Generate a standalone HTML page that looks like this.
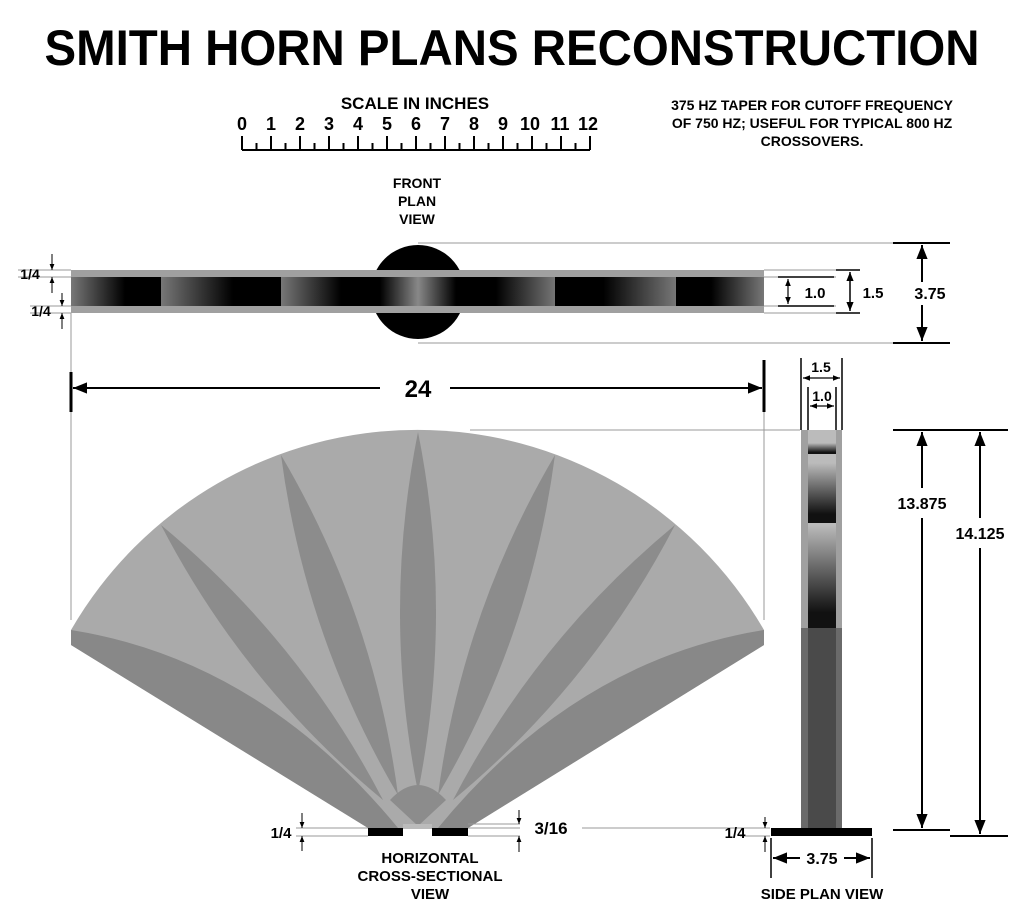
<!DOCTYPE html>
<html><head><meta charset="utf-8"><style>
body{margin:0;background:#fff}
svg{display:block}
text{font-family:"Liberation Sans",sans-serif;font-weight:bold;fill:#000}
</style></head><body>
<svg width="1024" height="913" viewBox="0 0 1024 913" xmlns="http://www.w3.org/2000/svg">
<defs>
<marker id="a" viewBox="0 0 10 10" refX="10" refY="5" markerWidth="7" markerHeight="7" orient="auto"><path d="M0,1 L10,5 L0,9 Z" fill="#000"/></marker>
<marker id="s" viewBox="0 0 10 10" refX="10" refY="5" markerWidth="6" markerHeight="6" orient="auto"><path d="M0,1 L10,5 L0,9 Z" fill="#000"/></marker>
<linearGradient id="gL" x1="0" x2="1"><stop offset="0" stop-color="#777"/><stop offset="0.6" stop-color="#000"/><stop offset="1" stop-color="#000"/></linearGradient>
<linearGradient id="gR" x1="1" x2="0"><stop offset="0" stop-color="#777"/><stop offset="0.6" stop-color="#000"/><stop offset="1" stop-color="#000"/></linearGradient>
<linearGradient id="gC" x1="0" x2="1"><stop offset="0" stop-color="#000"/><stop offset="0.5" stop-color="#888"/><stop offset="1" stop-color="#000"/></linearGradient>
<linearGradient id="gV" x1="0" y1="0" x2="0" y2="1"><stop offset="0" stop-color="#bbb"/><stop offset="0.85" stop-color="#111"/><stop offset="1" stop-color="#111"/></linearGradient>
</defs>

<text x="512" y="65" font-size="50" text-anchor="middle" textLength="935" lengthAdjust="spacingAndGlyphs">SMITH HORN PLANS RECONSTRUCTION</text>

<text x="415" y="109" font-size="17" text-anchor="middle">SCALE IN INCHES</text>
<g font-size="18" text-anchor="middle" font-weight="normal">
<text x="242" y="130">0</text><text x="271" y="130">1</text><text x="300" y="130">2</text><text x="329" y="130">3</text><text x="358" y="130">4</text><text x="387" y="130">5</text><text x="416" y="130">6</text><text x="445" y="130">7</text><text x="474" y="130">8</text><text x="503" y="130">9</text><text x="530" y="130">10</text><text x="560" y="130">11</text><text x="588" y="130">12</text>
</g>
<path d="M242,150 H590 M242,136V150 M271,136V150 M300,136V150 M329,136V150 M358,136V150 M387,136V150 M416,136V150 M445,136V150 M474,136V150 M503,136V150 M532,136V150 M561,136V150 M590,136V150 M256.5,143V150 M285.5,143V150 M314.5,143V150 M343.5,143V150 M372.5,143V150 M401.5,143V150 M430.5,143V150 M459.5,143V150 M488.5,143V150 M517.5,143V150 M546.5,143V150 M575.5,143V150" stroke="#000" stroke-width="2" fill="none"/>

<g font-size="14" text-anchor="middle" font-weight="normal">
<text x="812" y="110">375 HZ TAPER FOR CUTOFF FREQUENCY</text>
<text x="812" y="128">OF 750 HZ; USEFUL FOR TYPICAL 800 HZ</text>
<text x="812" y="146">CROSSOVERS.</text>
<text x="417" y="188">FRONT</text>
<text x="417" y="206">PLAN</text>
<text x="417" y="224">VIEW</text>
</g>

<!-- front plan view -->
<path d="M418,243 H950 M418,343 H950 M764,270 H860 M764,277 H836 M764,306 H836 M764,313 H860" stroke="#999" stroke-width="1"/>
<path d="M18,270 H71 M18,277 H71 M30,306 H71 M30,313 H71" stroke="#999" stroke-width="1"/>
<circle cx="418" cy="292" r="47" fill="#000"/>
<rect x="71" y="270" width="693" height="43" fill="#a0a0a0"/>
<rect x="71" y="277" width="90" height="29" fill="url(#gL)"/>
<rect x="161" y="277" width="120" height="29" fill="url(#gL)"/>
<rect x="281" y="277" width="100" height="29" fill="url(#gL)"/>
<rect x="380" y="277" width="76" height="29" fill="url(#gC)"/>
<rect x="456" y="277" width="100" height="29" fill="url(#gR)"/>
<rect x="555" y="277" width="121" height="29" fill="url(#gR)"/>
<rect x="676" y="277" width="88" height="29" fill="url(#gR)"/>
<path d="M71,313 V380" stroke="#999"/>
<g stroke="#000" stroke-width="1">
<path d="M52,254 V270" marker-end="url(#s)"/><path d="M52,293 V277" marker-end="url(#s)"/>
<path d="M62,293 V306" marker-end="url(#s)"/><path d="M62,329 V313" marker-end="url(#s)"/>
</g>
<text x="30" y="279" font-size="14" text-anchor="middle">1/4</text>
<text x="41" y="316" font-size="14" text-anchor="middle">1/4</text>
<path d="M778,277 H834 M778,306 H834" stroke="#000" stroke-width="1.5"/>
<g stroke="#000" stroke-width="1.2">
<path d="M788,291 V279" marker-end="url(#s)"/><path d="M788,291 V304" marker-end="url(#s)"/>
</g>
<text x="815" y="298" font-size="15" text-anchor="middle" font-weight="normal">1.0</text>
<path d="M836,270 H860 M836,313 H860" stroke="#000" stroke-width="1.5"/>
<g stroke="#000" stroke-width="1.5">
<path d="M850,291 V272" marker-end="url(#s)"/><path d="M850,291 V311" marker-end="url(#s)"/>
</g>
<text x="873" y="298" font-size="15" text-anchor="middle" font-weight="normal">1.5</text>
<path d="M893,243 H950 M893,343 H950" stroke="#000" stroke-width="2"/>
<g stroke="#000" stroke-width="2">
<path d="M922,282 V245" marker-end="url(#a)"/><path d="M922,305 V341" marker-end="url(#a)"/>
</g>
<text x="930" y="299" font-size="16" text-anchor="middle" font-weight="normal">3.75</text>

<!-- 24 dim -->
<path d="M71,372 V412 M764,360 V412" stroke="#000" stroke-width="3"/>
<g stroke="#000" stroke-width="2">
<path d="M380,388 H73" marker-end="url(#a)"/><path d="M450,388 H762" marker-end="url(#a)"/>
</g>
<text x="418" y="397" font-size="24" text-anchor="middle">24</text>
<path d="M764,412 V620 M71,412 V620 M470,430 H800" stroke="#999" stroke-width="1"/>

<!-- fan -->
<path d="M71,630 A400,400 0 0 1 764,630 L764,645 L468,828 L368,828 L71,645 Z" fill="#aaa"/>
<path d="M71,630 Q260,660 398,828 L368,828 L71,645 Z" fill="#888"/>
<path d="M764,630 Q576,660 438,828 L468,828 L764,645 Z" fill="#888"/>
<path d="M418,432 Q382,612 418,792 Q454,612 418,432 Z" fill="#8c8c8c"/>
<path d="M281,455 Q305,637 398,795 Q374,613 281,455 Z" fill="#8c8c8c"/>
<path d="M555,455 Q531,637 438,795 Q462,613 555,455 Z" fill="#8c8c8c"/>
<path d="M161,525 Q244,685 383,800 Q300,640 161,525 Z" fill="#8c8c8c"/>
<path d="M675,525 Q592,685 453,800 Q536,640 675,525 Z" fill="#8c8c8c"/>
<path d="M390,800 Q418,770 446,800 L418,826 Z" fill="#8c8c8c"/>
<rect x="403" y="824" width="29" height="5" fill="#bbb"/>
<rect x="368" y="828" width="35" height="8" fill="#000"/>
<rect x="432" y="828" width="36" height="8" fill="#000"/>
<path d="M296,828 H368 M296,836 H368 M468,828 H520 M468,836 H520 M468,824 H520 M582,828 H770 M740,836 H770" stroke="#999" stroke-width="1"/>
<g stroke="#000" stroke-width="1">
<path d="M302,813 V828" marker-end="url(#s)"/><path d="M302,851 V836" marker-end="url(#s)"/>
<path d="M519,810 V824" marker-end="url(#s)"/><path d="M519,852 V836" marker-end="url(#s)"/>
<path d="M765,817 V828" marker-end="url(#s)"/><path d="M765,852 V836" marker-end="url(#s)"/>
</g>
<text x="281" y="838" font-size="15" text-anchor="middle" font-weight="normal">1/4</text>
<text x="551" y="834" font-size="17" text-anchor="middle" font-weight="normal">3/16</text>
<text x="735" y="838" font-size="15" text-anchor="middle" font-weight="normal">1/4</text>
<g font-size="15" text-anchor="middle" font-weight="normal">
<text x="430" y="863">HORIZONTAL</text>
<text x="430" y="881">CROSS-SECTIONAL</text>
<text x="430" y="899">VIEW</text>
<text x="822" y="899">SIDE PLAN VIEW</text>
</g>

<!-- side view -->
<rect x="801" y="430" width="41" height="400" fill="#a0a0a0"/>
<rect x="801" y="628" width="41" height="202" fill="#6a6a6a"/>
<rect x="808" y="430" width="28" height="198" fill="#bbb"/>
<rect x="808" y="443" width="28" height="11" fill="url(#gV)"/>
<rect x="808" y="463" width="28" height="60" fill="url(#gV)"/>
<rect x="808" y="525" width="28" height="103" fill="url(#gV)"/>
<rect x="808" y="628" width="28" height="202" fill="#4a4a4a"/>
<rect x="771" y="828" width="101" height="8" fill="#000"/>
<path d="M801,358 V430 M842,358 V430 M808,387 V430 M836,387 V430" stroke="#000" stroke-width="1.5"/>
<g stroke="#000" stroke-width="1.2">
<path d="M821,378 H803" marker-end="url(#s)"/><path d="M821,378 H840" marker-end="url(#s)"/>
<path d="M822,406 H810" marker-end="url(#s)"/><path d="M822,406 H834" marker-end="url(#s)"/>
</g>
<text x="821" y="372" font-size="14" text-anchor="middle" font-weight="normal">1.5</text>
<text x="822" y="401" font-size="14" text-anchor="middle" font-weight="normal">1.0</text>
<path d="M893,430 H1008 M893,830 H950 M950,836 H1008" stroke="#000" stroke-width="2"/>
<g stroke="#000" stroke-width="2">
<path d="M922,488 V432" marker-end="url(#a)"/><path d="M922,518 V828" marker-end="url(#a)"/>
<path d="M980,518 V432" marker-end="url(#a)"/><path d="M980,548 V834" marker-end="url(#a)"/>
</g>
<text x="922" y="509" font-size="16" text-anchor="middle" font-weight="normal">13.875</text>
<text x="980" y="539" font-size="16" text-anchor="middle" font-weight="normal">14.125</text>
<path d="M771,838 V878 M872,838 V878" stroke="#000" stroke-width="1.5"/>
<g stroke="#000" stroke-width="2">
<path d="M800,858 H773" marker-end="url(#a)"/><path d="M844,858 H870" marker-end="url(#a)"/>
</g>
<text x="822" y="864" font-size="16" text-anchor="middle" font-weight="normal">3.75</text>
</svg>
</body></html>
